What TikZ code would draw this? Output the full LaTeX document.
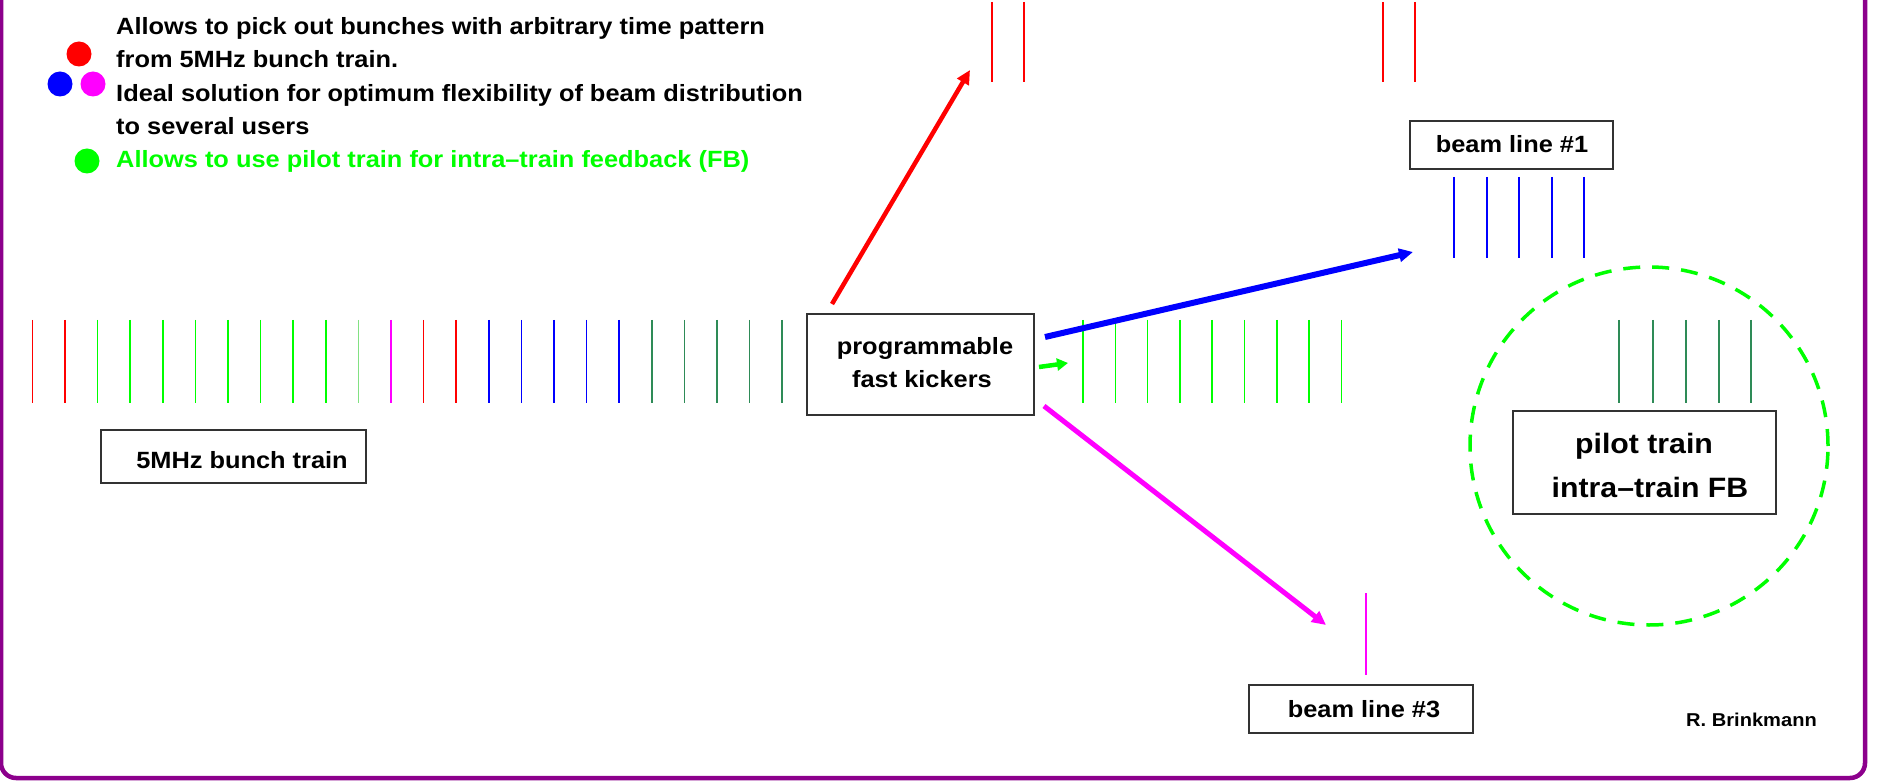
\documentclass[tikz,border=0pt]{standalone}
\usepackage{fontspec}
\setmainfont{Liberation Sans}[FakeStretch=1.08]
\usetikzlibrary{arrows.meta}
\definecolor{frm}{RGB}{140,0,140}
\definecolor{tealg}{RGB}{46,139,87}
\definecolor{boxc}{RGB}{50,50,50}
\definecolor{lgreen}{RGB}{0,255,0}
\definecolor{paleg}{RGB}{130,225,130}
\definecolor{mag}{RGB}{255,0,255}
\definecolor{rd}{RGB}{255,0,0}
\definecolor{bl}{RGB}{0,0,255}
\begin{document}
\begin{tikzpicture}[x=1pt,y=-1pt,
  txt/.style={font=\bfseries\fontsize{23.5}{28}\selectfont, inner sep=0pt, anchor=base},
  bigtxt/.style={font=\bfseries\fontsize{28}{32}\selectfont, inner sep=0pt, anchor=base},
  smalltxt/.style={font=\bfseries\fontsize{18.6}{22}\selectfont, inner sep=0pt, anchor=base},
  boxn/.style={draw=boxc, line width=1.6pt, inner sep=0pt, rectangle},
  tk/.style={line width=1.5pt},
  arr/.style={-{Triangle[length=14pt,width=13pt]}},
  dot/.style={circle, inner sep=0pt, minimum size=25pt}
]
\useasboundingbox (0,0) rectangle (1881,783);
\begin{scope}
  \clip (0,0) rectangle (1881,783);
  \draw[frm, line width=4.5pt, rounded corners=15pt] (1,-40) rectangle (1865,778);
\end{scope}

% legend dots
\node[dot, fill=rd] (dr) at (79,54) {};
\node[dot, fill=bl] (db) at (60,84) {};
\node[dot, fill=mag] (dm) at (93,84) {};
\node[dot, fill=lgreen] (dg) at (87,161) {};

% legend text
\node[txt, anchor=base west] (l1) at (116,35) {Allows to pick out bunches with arbitrary time pattern};
\node[txt, anchor=base west] (l2) at (116,68) {from 5MHz bunch train.};
\node[txt, anchor=base west] (l3) at (116,102) {Ideal solution for optimum flexibility of beam distribution};
\node[txt, anchor=base west] (l4) at (116,135) {to several users};
\node[txt, anchor=base west, text=lgreen] (l5) at (116,168) {Allows to use pilot train for intra–train feedback (FB)};

% main bunch train
\foreach \i in {0,...,23} {
  \pgfmathsetmacro{\xx}{32.4+32.6*\i}
  \ifnum\i<2 \def\cc{rd}\else
  \ifnum\i<10 \def\cc{lgreen}\else
  \ifnum\i=10 \def\cc{paleg}\else
  \ifnum\i=11 \def\cc{mag}\else
  \ifnum\i<14 \def\cc{rd}\else
  \ifnum\i<19 \def\cc{bl}\else
  \def\cc{tealg}\fi\fi\fi\fi\fi\fi
  \draw[tk, \cc] (\xx,320) -- (\xx,403);
}

% boxes
\node[boxn, minimum width=265pt, minimum height=53pt] (bt) at (233.5,456.5) {};
\node[txt] (btt) at (242,468) {5MHz bunch train};

\node[boxn, minimum width=227pt, minimum height=101pt] (kick) at (920.5,364.5) {};
\node[txt] (kt1) at (925,355) {programmable};
\node[txt] (kt2) at (922,387) {fast kickers};

\node[boxn, minimum width=203pt, minimum height=48pt] (b1) at (1511.5,145) {};
\node[txt] (b1t) at (1512,153) {beam line \#1};

\node[boxn, minimum width=263pt, minimum height=103pt] (pb) at (1644.5,462.5) {};
\node[bigtxt] (pt1) at (1644,453) {pilot train};
\node[bigtxt] (pt2) at (1650,497) {intra–train FB};

\node[boxn, minimum width=224pt, minimum height=48pt] (b3) at (1361,709) {};
\node[txt] (b3t) at (1364,717) {beam line \#3};

\node[smalltxt] (rb) at (1751.5,726) {R. Brinkmann};

% kicked trains
\foreach \x in {992,1024,1383,1415} \draw[tk, rd] (\x,2) -- (\x,82);
\foreach \x in {1454,1487,1519,1552,1584} \draw[tk, bl] (\x,177) -- (\x,258);
\foreach \i in {0,...,8} {
  \pgfmathsetmacro{\xx}{1083+32.3*\i}
  \draw[tk, lgreen] (\xx,320) -- (\xx,403);
}
\foreach \x in {1619,1653,1686,1719,1751} \draw[tk, tealg] (\x,320) -- (\x,403);
\draw[tk, mag] (1366,593) -- (1366,675);

% pilot circle
\node[circle, draw=lgreen, line width=3.5pt, dash pattern=on 17pt off 12pt, minimum size=358pt, inner sep=0pt] (circ) at (1649,446) {};

% arrows
\coordinate (rS) at (832,304);
\coordinate (rE) at (970,70);
\coordinate (bS) at (1045,337);
\coordinate (bE) at (1413,252);
\coordinate (gS) at (1039,367);
\coordinate (gE) at (1068,363);
\coordinate (mS) at (1044,406);
\coordinate (mE) at (1326,625);
\draw[arr, rd, line width=4.5pt] (rS) -- (rE);
\draw[arr, bl, line width=6pt] (bS) -- (bE);
\draw[-{Triangle[length=11pt,width=12pt]}, lgreen, line width=4.5pt] (gS) -- (gE);
\draw[arr, mag, line width=5pt] (mS) -- (mE);
\end{tikzpicture}
\end{document}
